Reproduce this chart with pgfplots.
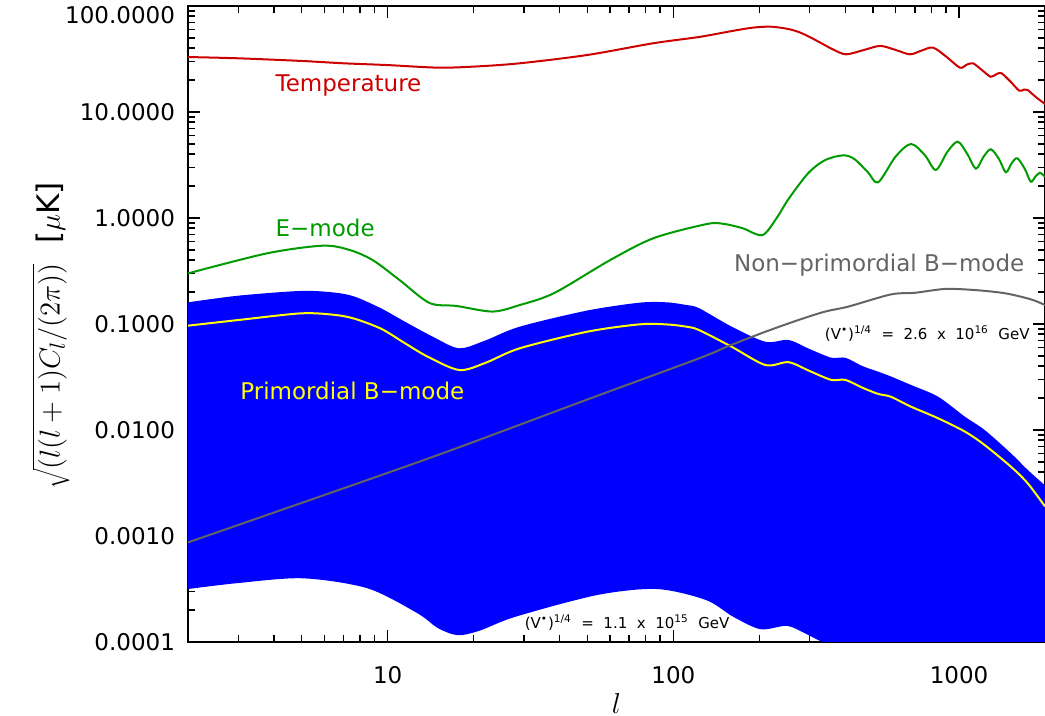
\documentclass[border=0pt]{standalone}
\usepackage{fontspec}
\setmainfont{DejaVu Sans}
\usepackage{pgfplots}
\pgfplotsset{compat=1.18}
\usepgfplotslibrary{fillbetween}
\usetikzlibrary{calc}
\definecolor{tred}{RGB}{204,0,0}
\definecolor{egreen}{RGB}{0,155,0}
\definecolor{bblue}{RGB}{0,0,255}
\definecolor{pyellow}{RGB}{255,255,0}
\definecolor{lgray}{RGB}{100,100,100}

\begin{document}
\begin{tikzpicture}
\begin{axis}[name=ax, scale only axis, width=428.5pt, height=318pt,
  xmode=log, ymode=log, xmin=2, xmax=2000, ymin=1e-4, ymax=100,
  axis line style={line width=1pt},
  tick align=inside, tick pos=both, xticklabel pos=lower, yticklabel pos=left,
  major tick length=6pt, minor tick length=3.5pt,
  tick style={black, line width=0.8pt},
  xtick={10,100,1000}, xticklabels={10,100,1000},
  minor xtick={3,4,5,6,7,8,9,20,30,40,50,60,70,80,90,200,300,400,500,600,700,800,900},
  ytick={1e-4,1e-3,1e-2,1e-1,1,10,100},
  yticklabels={0.0001,0.0010,0.0100,0.1000,1.0000,10.0000,\smash{\raisebox{-8.7pt}{100.0000}}},
  minor ytick={2e-4,3e-4,4e-4,5e-4,6e-4,7e-4,8e-4,9e-4,
    2e-3,3e-3,4e-3,5e-3,6e-3,7e-3,8e-3,9e-3,
    0.02,0.03,0.04,0.05,0.06,0.07,0.08,0.09,
    0.2,0.3,0.4,0.5,0.6,0.7,0.8,0.9,
    2,3,4,5,6,7,8,9,20,30,40,50,60,70,80,90},
  font=\fontsize{11.5}{13}\selectfont,
  xticklabel style={yshift=-8.5pt},
  yticklabel style={xshift=-3pt},
  xlabel={$l$}, ylabel={$\sqrt{(l(l+1)C_l/(2\pi))}$\ \ [$\mu$K]},
  xlabel style={font=\fontsize{15}{17}\selectfont, yshift=2pt},
  ylabel style={font=\fontsize{15.5}{17}\selectfont, yshift=-9pt, xshift=-6pt},
]
% band between (V*)^1/4 = 2.6e16 and 1.1e15 GeV
\addplot[name path=up, draw=none, smooth, forget plot] coordinates {
 (2,0.160) (3,0.185) (4.97,0.205) (6.5,0.198) (7.67,0.181) (9.5,0.14) (11.5,0.105)
 (14.5,0.075) (17.8,0.059) (22,0.07) (29,0.0944) (50,0.134) (76.4,0.159) (95,0.16)
 (111,0.151) (123,0.141) (160,0.0944) (210,0.068) (253,0.0706) (300,0.058)
 (357,0.0481) (400,0.048) (460,0.04) (521,0.0355) (577,0.032) (679,0.0266)
 (845,0.0206) (1050,0.0133) (1229,0.0100) (1519,0.00603) (1740,0.0042) (2000,0.0030)};
\addplot[name path=lo, draw=none, smooth, forget plot] coordinates {
 (2,0.000316) (3,0.00036) (5.05,0.000399) (8.5,0.000321) (12.7,0.000187)
 (15,0.000135) (17.6,0.000116) (21,0.000128) (28,0.000173) (54,0.000277)
 (87.5,0.000316) (130,0.000249) (162,0.000173) (202,0.000132) (250,0.000142)
 (290,0.00012) (333,0.0001) (400,0.000085) (1000,0.000025) (2000,0.000006)};
\addplot[bblue, forget plot] fill between[of=up and lo];
% temperature
\addplot[tred, line width=1pt, smooth] coordinates {
 (2,33) (3,32.1) (5,30.3) (7,28.8) (10,27.7) (15,26.2) (20,26.8) (29,28.8)
 (50,34.5) (85,44.5) (123,51) (160,58) (190,62.5) (219,63.8) (250,61) (274,57)
 (300,51) (330,44.5) (365,38.5) (403,35) (465,38.5) (530,42) (600,38.5) (674,35)
 (740,38) (811,40.5) (902,33.3) (1007,26.2) (1060,27.8) (1119,28.8) (1200,25)
 (1290,21.5) (1350,22.7) (1407,23.2) (1510,19.5) (1625,15.9) (1690,16.3)
 (1740,16.1) (1860,13.8) (2000,11.9)};
% E-mode
\addplot[egreen, line width=1pt, smooth] coordinates {
 (2,0.30) (3.78,0.464) (5.93,0.548) (7.36,0.499) (8.87,0.40) (11,0.26) (14,0.158)
 (17.4,0.148) (23.3,0.131) (29,0.151) (38.3,0.196) (60,0.40) (85.5,0.647)
 (131,0.877) (150,0.88) (175,0.80) (205,0.69) (230,1.0) (253,1.51) (297,2.66)
 (340,3.52) (393,3.9) (430,3.6) (480,2.7) (521,2.17) (600,3.8) (679,4.99)
 (760,3.9) (830,2.84) (910,4.2) (990,5.25) (1070,4.0) (1146,2.92) (1220,3.8)
 (1293,4.45) (1380,3.6) (1459,2.70) (1530,3.3) (1600,3.66) (1700,2.9)
 (1783,2.20) (1850,2.45) (1918,2.67) (2000,2.45)};
% primordial B-mode
\addplot[pyellow, line width=1pt, smooth] coordinates {
 (2,0.0964) (3,0.109) (4.97,0.126) (6.5,0.122) (7.67,0.112) (9.5,0.09) (11.5,0.0658)
 (13.8,0.0492) (17.8,0.0368) (22,0.043) (29,0.059) (50,0.0846) (76.4,0.0993)
 (95,0.099) (111,0.0944) (123,0.0877) (160,0.061) (210,0.041) (253,0.0436)
 (300,0.036) (357,0.0297) (400,0.0297) (460,0.025) (521,0.0219) (577,0.0206)
 (679,0.0166) (845,0.0129) (1050,0.00964) (1229,0.00722) (1519,0.00451)
 (1740,0.00314) (2000,0.0019)};
% non-primordial B-mode
\addplot[lgray, line width=1pt, smooth] coordinates {
 (2,0.00087) (13.4,0.00521) (50,0.0194) (123,0.0474) (156,0.062) (210,0.0845)
 (274,0.109) (340,0.131) (410,0.146) (577,0.190) (701,0.197) (894,0.214)
 (1137,0.209) (1447,0.195) (1783,0.171) (2000,0.151)};
\node[anchor=west, text=tred, inner sep=0pt] at (axis cs:4.04,17.6) {Temperature};
\node[anchor=west, text=egreen, inner sep=0pt] at (axis cs:4.04,0.805) {E−mode};
\node[anchor=west, text=pyellow, inner sep=0pt] at (axis cs:3.04,0.0235) {Primordial B−mode};
\node[anchor=east, text=lgray, inner sep=0pt] at (axis cs:1698,0.3605) {Non−primordial B−mode};
\node[anchor=east, inner sep=0pt, font=\fontsize{7.5}{9}\selectfont] at (axis cs:1771,0.0805)
  {(V\textsuperscript{•})\textsuperscript{1/4}\ \ =\ \ 2.6\ \ x\ \ 10\textsuperscript{16}\ \ GeV};
\node[anchor=west, inner sep=0pt, font=\fontsize{7.5}{9}\selectfont] at (axis cs:30.1,0.000151)
  {(V\textsuperscript{•})\textsuperscript{1/4}\ \ =\ \ 1.1\ \ x\ \ 10\textsuperscript{15}\ \ GeV};
\end{axis}
\pgfresetboundingbox
\path ($(ax.south west)+(-94pt,-37pt)$) rectangle ($(ax.north east)+(0pt,3pt)$);
\end{tikzpicture}
\end{document}
